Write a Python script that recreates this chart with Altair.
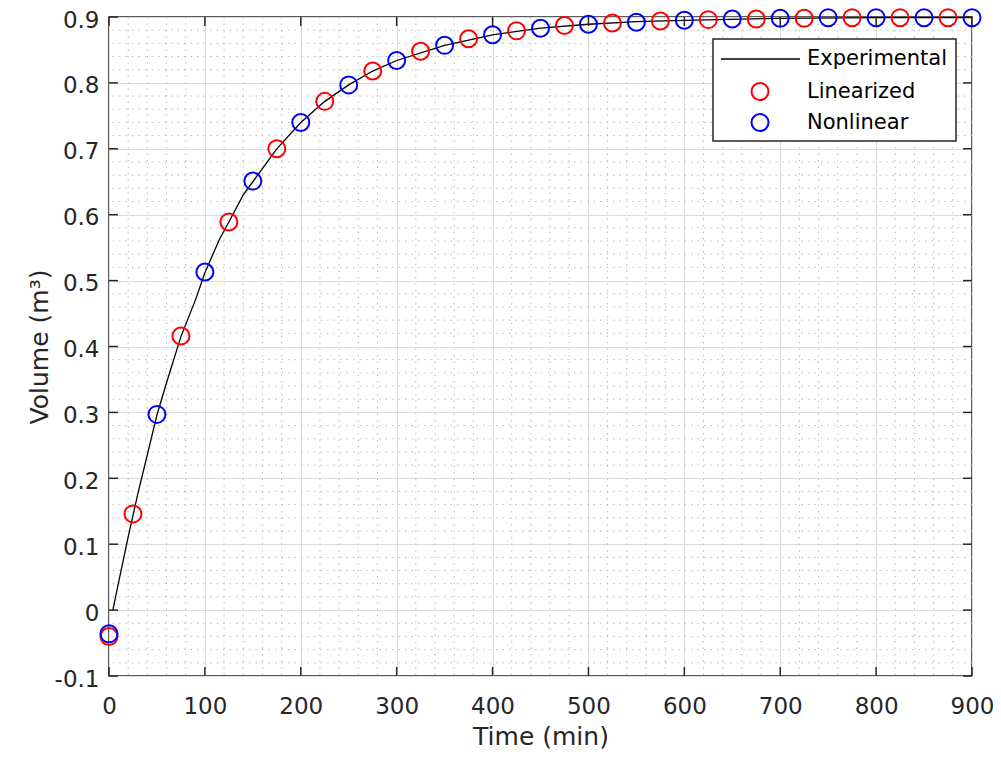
import altair as alt
import pandas as pd

# ---------------- data ----------------
exp_t = [4, 10, 20, 30, 40, 50, 60, 75, 90, 100, 115, 125, 140, 150, 175, 200,
         225, 250, 275, 300, 350, 400, 450, 500, 550, 600, 700, 800, 900]
exp_v = [0.0, 0.042, 0.111, 0.176, 0.236, 0.296, 0.345, 0.415, 0.470, 0.512,
         0.562, 0.589, 0.630, 0.650, 0.700, 0.740, 0.772, 0.797, 0.818, 0.834,
         0.857, 0.873, 0.883, 0.889, 0.893, 0.895, 0.898, 0.899, 0.899]

lin_t = [0, 25, 75, 125, 175, 225, 275, 325, 375, 425, 475, 525, 575, 625,
         675, 725, 775, 825, 875]
lin_v = [-0.040, 0.146, 0.416, 0.589, 0.700, 0.772, 0.818, 0.848, 0.867,
         0.879, 0.887, 0.891, 0.894, 0.896, 0.897, 0.898, 0.899, 0.899, 0.899]

non_t = [0, 50, 100, 150, 200, 250, 300, 350, 400, 450, 500, 550, 600, 650,
         700, 750, 800, 850, 900]
non_v = [-0.036, 0.297, 0.513, 0.651, 0.740, 0.797, 0.834, 0.857, 0.873,
         0.883, 0.889, 0.892, 0.895, 0.897, 0.898, 0.899, 0.899, 0.899, 0.899]

x_ticks = [0, 100, 200, 300, 400, 500, 600, 700, 800, 900]
y_ticks = [-0.1, 0.0, 0.1, 0.2, 0.3, 0.4, 0.5, 0.6, 0.7, 0.8, 0.9]
x_minor = [v for v in range(20, 900, 20) if v % 100 != 0]
y_minor = [round(-0.1 + 0.02 * i, 2) for i in range(1, 50) if i % 5 != 0]

legend_labels = ["Experimental", "Linearized", "Nonlinear"]
x_title = "Time (min)"
y_title = "Volume (m³)"

W, H = 863, 659
PAD_L = 101
FONT = "DejaVu Sans"
INK = "#262626"

xs = alt.Scale(domain=[0, 900], nice=False, zero=False)
ys = alt.Scale(domain=[-0.1, 0.9], nice=False, zero=False)

exp_df = pd.DataFrame({"t": exp_t, "v": exp_v})
lin_df = pd.DataFrame({"t": lin_t, "v": lin_v})
non_df = pd.DataFrame({"t": non_t, "v": non_v})

x_axis = alt.Axis(values=x_ticks, title=x_title, grid=True, gridColor="#dcdcdc",
                  gridWidth=1, domain=False, ticks=False, tickSize=0,
                  labelPadding=19, labelFontSize=23, labelFont=FONT,
                  labelColor=INK, titleFontSize=25, titleFont=FONT,
                  titleColor=INK, titleFontWeight="normal",
                  titleBaseline="alphabetic", titleY=68, labelFlush=False)
y_axis = alt.Axis(values=y_ticks, title=y_title, grid=True, gridColor="#dcdcdc",
                  gridWidth=1, domain=False, ticks=False, tickSize=0,
                  labelPadding=10, labelFontSize=23, labelFont=FONT,
                  labelColor=INK, labelOffset=3,
                  labelExpr="datum.value < 0 ? '-' + format(-datum.value, '.1f') : format(datum.value, '.1~f')",
                  titleFontSize=25, titleFont=FONT, titleColor=INK,
                  titleFontWeight="normal", titleAngle=270,
                  titleBaseline="alphabetic", titleX=-62, titleY=H / 2,
                  titleAlign="center", labelFlush=False)


def X(field="t"):
    return alt.X(f"{field}:Q", scale=xs, axis=x_axis)


def Y(field="v"):
    return alt.Y(f"{field}:Q", scale=ys, axis=y_axis)


# minor dotted grid
xm = alt.Chart(pd.DataFrame({"t": x_minor})).mark_rule(
    color="#bcbcbc", strokeWidth=1, strokeDash=[1.5, 5]).encode(x=X())
ym = alt.Chart(pd.DataFrame({"v": y_minor})).mark_rule(
    color="#bcbcbc", strokeWidth=1, strokeDash=[1.5, 5]).encode(y=Y())

line = alt.Chart(exp_df).mark_line(color="black", strokeWidth=1.3).encode(
    x=X(), y=Y())

red = alt.Chart(lin_df).mark_point(shape="circle", filled=False, size=289,
                                   strokeWidth=2, color="#ff0000", opacity=1).encode(
    x=X(), y=Y())
blue = alt.Chart(non_df).mark_point(shape="circle", filled=False, size=289,
                                    strokeWidth=2, color="#0000ff", opacity=1).encode(
    x=X(), y=Y())

# inward tick marks (box style)
xt = pd.DataFrame({"t": x_ticks})
yt = pd.DataFrame({"v": y_ticks})
tick_style = dict(color=INK, strokeWidth=1.5)
tb = alt.Chart(xt).mark_rule(**tick_style).encode(
    x=X(), y=alt.value(H), y2=alt.value(H - 9))
tt = alt.Chart(xt).mark_rule(**tick_style).encode(
    x=X(), y=alt.value(0), y2=alt.value(9))
tl = alt.Chart(yt).mark_rule(**tick_style).encode(
    y=Y(), x=alt.value(0), x2=alt.value(9))
tr = alt.Chart(yt).mark_rule(**tick_style).encode(
    y=Y(), x=alt.value(W), x2=alt.value(W - 9))

# legend (page position of the reference's legend box)
OX = 8 + PAD_L
one = pd.DataFrame({"k": [0]})
leg_box = alt.Chart(one).mark_rect(fill="white", stroke=INK, strokeWidth=1.5).encode(
    x=alt.value(713 - OX), x2=alt.value(956 - OX), y=alt.value(22), y2=alt.value(124))
leg_line = alt.Chart(one).mark_rule(color="black", strokeWidth=1.3).encode(
    x=alt.value(721 - OX), x2=alt.value(800 - OX), y=alt.value(42))
leg_red = alt.Chart(one).mark_point(shape="circle", filled=False, size=289,
                                    strokeWidth=2, color="#ff0000", opacity=1).encode(
    x=alt.value(760 - OX), y=alt.value(74.5))
leg_blue = alt.Chart(one).mark_point(shape="circle", filled=False, size=289,
                                     strokeWidth=2, color="#0000ff", opacity=1).encode(
    x=alt.value(760 - OX), y=alt.value(105.5))
leg_texts = []
for lab, yy in zip(legend_labels, [42, 74.5, 105.5]):
    leg_texts.append(
        alt.Chart(pd.DataFrame({"label": [lab]})).mark_text(
            align="left", baseline="middle", font=FONT, fontSize=21,
            color="black").encode(text="label:N", x=alt.value(807 - OX), y=alt.value(yy)))

chart = alt.layer(xm, ym, line, red, blue, tb, tt, tl, tr,
                  leg_box, leg_line, leg_red, leg_blue, *leg_texts).properties(
    width=W, height=H,
    padding={"left": PAD_L, "top": 9, "right": 985 - PAD_L - W, "bottom": 73},
    autosize=alt.AutoSizeParams(type="none"),
    background="white",
).configure_view(stroke=INK, strokeWidth=1.5)

chart.save("out.html", embed_options={"renderer": "svg", "actions": False})
